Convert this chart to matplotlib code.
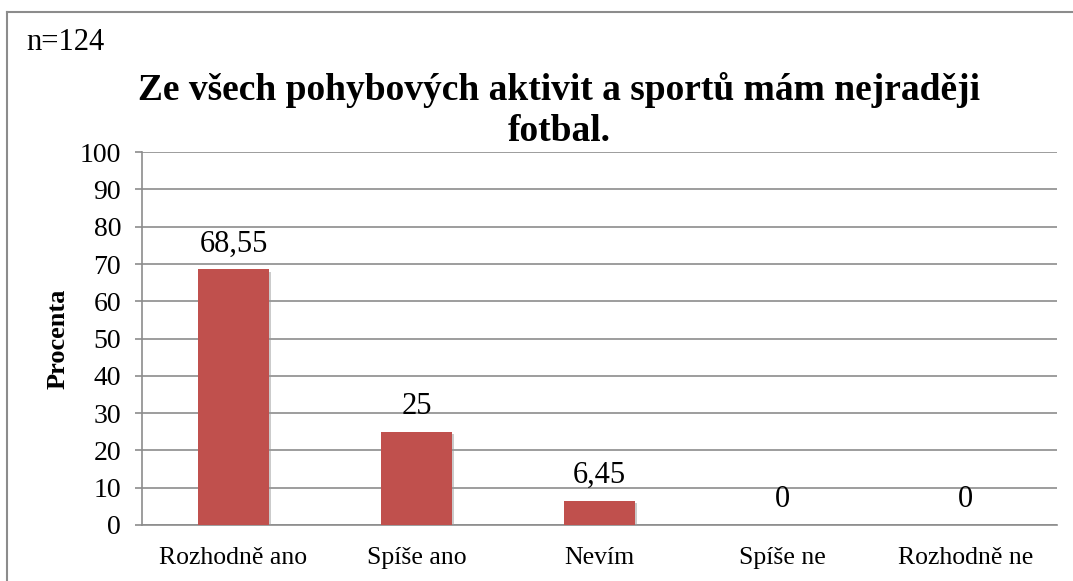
import matplotlib.pyplot as plt
import matplotlib.patheffects as pe
from matplotlib.lines import Line2D

categories = ['Rozhodně ano', 'Spíše ano', 'Nevím', 'Spíše ne', 'Rozhodně ne']
values = [68.55, 25, 6.45, 0, 0]
yticks = [0, 10, 20, 30, 40, 50, 60, 70, 80, 90, 100]

plt.rcParams['font.family'] = ['Liberation Serif', 'DejaVu Serif']

fig = plt.figure(figsize=(10.73, 5.81), dpi=100)
ax = fig.add_axes([0.1323, 0.0964, 0.8527, 0.6416])

grid_col = '#8c8c8c'
x = range(len(categories))
bars = ax.bar(x, values, width=0.39, color='#C0504D', zorder=3,
              path_effects=[pe.SimplePatchShadow(offset=(1.5, -1.5), shadow_rgbFace='#999999', alpha=0.5),
                            pe.Normal()])

for xi, v in zip(x, values):
    lab = f'{v:g}'.replace('.', ',')
    ax.annotate(lab, (xi, v), xytext=(0, 8), textcoords='offset points',
                ha='center', va='bottom', fontsize=22)

ax.set_xlim(-0.5, len(categories) - 0.5)
ax.set_ylim(0, 100)
ax.set_yticks(yticks)
ax.set_xticks(list(x))
ax.set_xticklabels(categories, fontsize=18.5)
ax.tick_params(axis='y', labelsize=20, length=5, color=grid_col, width=1.2, pad=10)
ax.tick_params(axis='x', length=0, pad=16)
ax.yaxis.grid(True, color=grid_col, linewidth=1.2, zorder=0)
ax.set_axisbelow(True)
for s in ['top', 'right']:
    ax.spines[s].set_visible(False)
for s in ['left', 'bottom']:
    ax.spines[s].set_color(grid_col)
    ax.spines[s].set_linewidth(1.2)

ax.set_ylabel('Procenta', fontsize=19, fontweight='bold', labelpad=7)

fig.text(0.521, 0.81, 'Ze všech pohybových aktivit a sportů mám nejraději\nfotbal.',
         ha='center', va='center', fontsize=27, fontweight='bold', linespacing=1.24)
fig.text(0.0245, 0.927, 'n=124', ha='left', va='center', fontsize=22)

# outer frame (only top and left edges are visible in the crop)
fig.add_artist(Line2D([7 / 1073, 7 / 1073], [0, 1 - 12 / 581], transform=fig.transFigure,
                      color='#8c8c8c', linewidth=1.5))
fig.add_artist(Line2D([7 / 1073, 1], [1 - 12 / 581, 1 - 12 / 581], transform=fig.transFigure,
                      color='#8c8c8c', linewidth=1.5))

fig.savefig('out.png', dpi=100)
